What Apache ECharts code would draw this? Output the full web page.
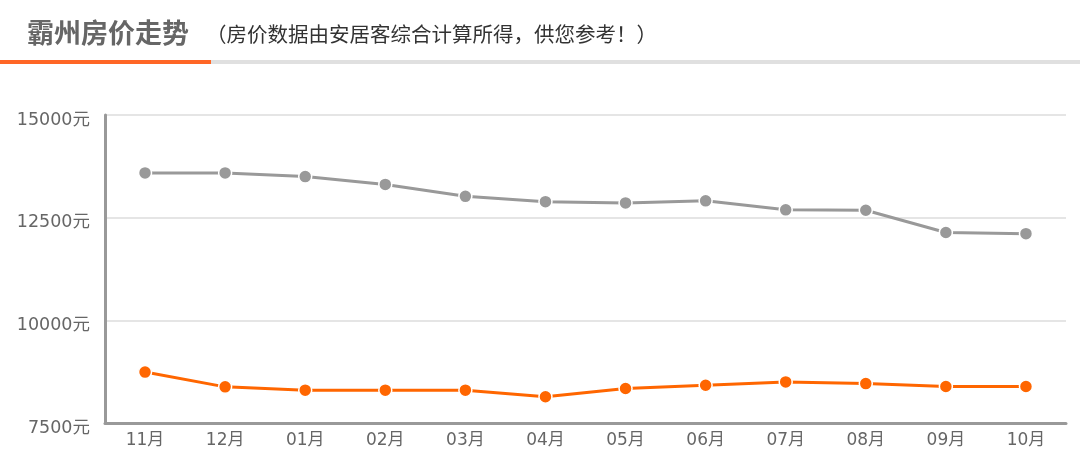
<!DOCTYPE html>
<html>
<head>
<meta charset="utf-8">
<script src="https://cdn.jsdelivr.net/npm/echarts@6/dist/echarts.min.js"></script>
<style>
  html, body { margin: 0; padding: 0; background: #fff; }
  .main { width: 1080px; height: 474px; }
</style>
</head>
<body>
<div class="main"></div>
<script>
// months along the x axis
var months = ['11月', '12月', '01月', '02月', '03月', '04月', '05月', '06月', '07月', '08月', '09月', '10月'];
// gray series (upper line)
var grayPrices = [13590, 13590, 13500, 13310, 13020, 12890, 12860, 12910, 12690, 12680, 12140, 12110];
// orange series (lower line)
var orangePrices = [8740, 8380, 8300, 8300, 8300, 8140, 8340, 8420, 8500, 8460, 8390, 8390];

var font = '"Noto Sans CJK SC", "Noto Sans", sans-serif';
var numFont = '"DejaVu Sans", "Noto Sans CJK SC", sans-serif';

var myChart = echarts.init(document.querySelector('.main'));
var option = {
  backgroundColor: '#fff',
  animation: false,
  title: [{
    text: '霸州房价走势',
    left: 22,
    top: 14,
    textStyle: { color: '#666', fontSize: 27, fontWeight: 'bold', fontFamily: font }
  }, {
    text: '（房价数据由安居客综合计算所得，供您参考！）',
    left: 201,
    top: 19,
    textStyle: { color: '#333', fontSize: 20.5, fontWeight: 'normal', fontFamily: font }
  }],
  graphic: [{
    type: 'rect',
    shape: { x: 0, y: 60, width: 1080, height: 4 },
    style: { fill: '#e0e0e0' }
  }, {
    type: 'rect',
    shape: { x: 0, y: 60, width: 211, height: 4 },
    style: { fill: '#ff6626' }
  }],
  grid: { left: 105, right: 14, top: 115, bottom: 51 },
  xAxis: {
    type: 'category',
    data: months,
    boundaryGap: true,
    axisLine: { lineStyle: { color: '#999', width: 3 } },
    axisTick: { alignWithLabel: true, length: 6, lineStyle: { color: '#c8d6e6', width: 1 } },
    axisLabel: { color: '#666', fontSize: 17, margin: 9, fontFamily: numFont }
  },
  yAxis: {
    type: 'value',
    min: 7500,
    max: 15000,
    interval: 2500,
    axisLine: { show: true, lineStyle: { color: '#999', width: 3 } },
    axisTick: { show: false },
    axisLabel: {
      color: '#666', fontSize: 17.5, margin: 15, fontFamily: numFont,
      verticalAlign: 'top', lineHeight: 10,
      formatter: function (v) { return v + '元'; }
    },
    splitLine: { lineStyle: { color: '#ddd', width: 1.5 } }
  },
  series: [{
    type: 'line',
    data: grayPrices,
    symbol: 'circle',
    symbolSize: 13,
    lineStyle: { color: '#999', width: 3 },
    itemStyle: { color: '#999', borderColor: '#fff', borderWidth: 1.5 }
  }, {
    type: 'line',
    data: orangePrices,
    symbol: 'circle',
    symbolSize: 13,
    lineStyle: { color: '#ff6600', width: 3 },
    itemStyle: { color: '#ff6600', borderColor: '#fff', borderWidth: 1.5 }
  }]
};
myChart.setOption(option);
</script>
</body>
</html>
